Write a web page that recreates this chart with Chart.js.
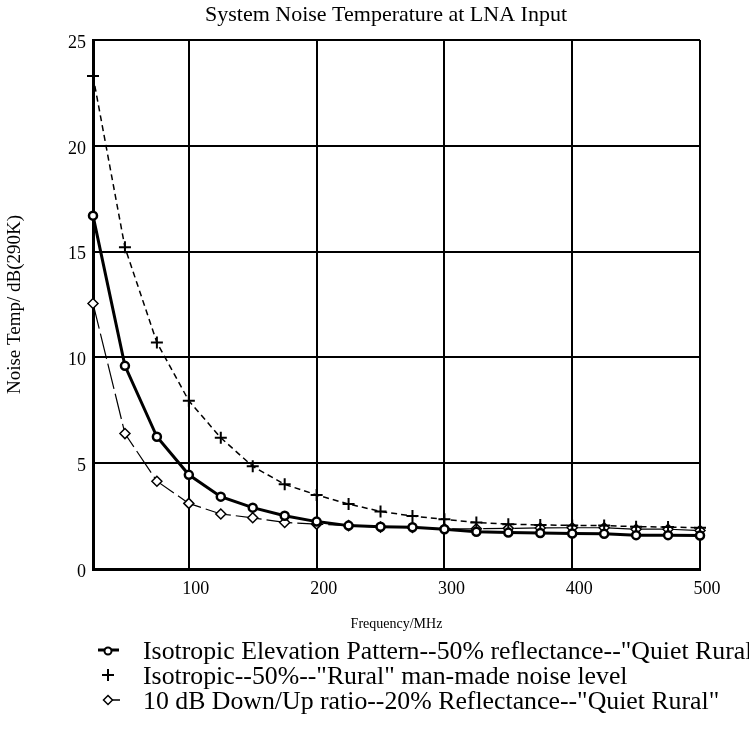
<!DOCTYPE html>
<html>
<head>
<meta charset="utf-8">
<script src="https://cdn.jsdelivr.net/npm/chart.js@4/dist/chart.umd.min.js"></script>
<style>
  html, body { margin: 0; background: #fff; }
  #wrap { width: 749px; height: 730px; }
</style>
</head>
<body>
<div id="wrap"><canvas id="chart"></canvas></div>
<script>
const TITLE = 'System Noise Temperature at LNA Input'
const X_TITLE = 'Frequency/MHz'
const Y_TITLE = 'Noise Temp/ dB(290K)'

const FREQ_MHZ = [25, 50, 75, 100, 125, 150, 175, 200, 225, 250, 275, 300, 325, 350, 375, 400, 425, 450, 475, 500]
const ISO_QUIET_RURAL = [16.7, 9.6, 6.25, 4.45, 3.42, 2.9, 2.52, 2.24, 2.05, 2.0, 1.97, 1.88, 1.76, 1.72, 1.7, 1.68, 1.66, 1.6, 1.6, 1.58]
const ISO_RURAL = [23.3, 15.2, 10.7, 7.95, 6.2, 4.85, 4.0, 3.5, 3.07, 2.72, 2.5, 2.35, 2.2, 2.12, 2.08, 2.06, 2.05, 2.0, 1.98, 1.95]
const DOWNUP_QUIET_RURAL = [12.55, 6.4, 4.15, 3.1, 2.6, 2.42, 2.2, 2.12, 2.05, 1.98, 1.96, 1.9, 1.9, 1.92, 1.94, 1.95, 1.95, 1.88, 1.88, 1.82]

const SERIES_LABELS = [
  'Isotropic Elevation Pattern--50% reflectance--"Quiet Rural"',
  'Isotropic--50%--"Rural" man-made noise level',
  '10 dB Down/Up ratio--20% Reflectance--"Quiet Rural"',
]
const X_TICKS = [100, 200, 300, 400, 500]
const Y_MIN = 0, Y_MAX = 25, Y_STEP = 5

const SERIF = '"Liberation Serif", "Times New Roman", serif'
const toPoints = ys => FREQ_MHZ.map((x, i) => ({ x, y: ys[i] }))

// little legend symbols drawn by hand, the old plotter style
function drawSymbol(ctx, kind, cx, cy) {
  ctx.strokeStyle = '#000'
  ctx.fillStyle = '#fff'
  if (kind === 'circle') {
    ctx.lineWidth = 3
    ctx.beginPath(); ctx.moveTo(cx - 10, cy); ctx.lineTo(cx + 11, cy); ctx.stroke()
    ctx.lineWidth = 2
    ctx.beginPath(); ctx.arc(cx, cy + 1, 3.5, 0, Math.PI * 2); ctx.fill(); ctx.stroke()
  } else if (kind === 'cross') {
    ctx.lineWidth = 2
    ctx.beginPath()
    ctx.moveTo(cx - 6, cy); ctx.lineTo(cx + 6, cy)
    ctx.moveTo(cx, cy - 6); ctx.lineTo(cx, cy + 6)
    ctx.stroke()
  } else {
    ctx.lineWidth = 1.5
    ctx.beginPath(); ctx.moveTo(cx + 4, cy); ctx.lineTo(cx + 12, cy); ctx.stroke()
    ctx.beginPath()
    ctx.moveTo(cx, cy - 4.5); ctx.lineTo(cx + 4.5, cy); ctx.lineTo(cx, cy + 4.5); ctx.lineTo(cx - 4.5, cy); ctx.closePath()
    ctx.fill(); ctx.stroke()
  }
}

const paperText = {
  id: 'paperText',
  afterDraw(chart) {
    const ctx = chart.ctx
    ctx.save()
    ctx.fillStyle = '#000'
    ctx.textBaseline = 'middle'
    ctx.textAlign = 'center'
    ctx.font = '22px ' + SERIF
    ctx.fillText(TITLE, 386, 15)

    const kinds = ['circle', 'cross', 'diamond']
    ctx.font = '25.8px ' + SERIF
    ctx.textAlign = 'left'
    SERIES_LABELS.forEach((label, i) => {
      const y = 652 + i * 25
      drawSymbol(ctx, kinds[i], 108, y - 2)
      ctx.fillStyle = '#000'
      ctx.fillText(label, 143, y)
    })
    ctx.restore()
  }
}

new Chart(document.getElementById('chart'), {
  type: 'line',
  data: {
    datasets: [
      {
        label: SERIES_LABELS[0], data: toPoints(ISO_QUIET_RURAL),
        borderColor: '#000', borderWidth: 3,
        pointStyle: 'circle', pointRadius: 4, pointBorderWidth: 2.5,
        pointBackgroundColor: '#fff', pointBorderColor: '#000', clip: false, order: 1,
      },
      {
        label: SERIES_LABELS[1], data: toPoints(ISO_RURAL),
        borderColor: '#000', borderWidth: 1.5, borderDash: [6, 4],
        pointStyle: 'cross', pointRadius: 6, pointBorderWidth: 2,
        pointBorderColor: '#000', clip: false, order: 2,
      },
      {
        label: SERIES_LABELS[2], data: toPoints(DOWNUP_QUIET_RURAL),
        borderColor: '#000', borderWidth: 1.2, borderDash: [26, 5],
        pointStyle: 'rectRot', pointRadius: 5, pointBorderWidth: 1.5,
        pointBackgroundColor: '#fff', pointBorderColor: '#000', clip: false, order: 3,
      },
    ]
  },
  options: {
    responsive: true,
    maintainAspectRatio: false,
    animation: false,
    layout: { padding: { left: 2, right: 49, top: 40, bottom: 95 } },
    plugins: { legend: { display: false }, tooltip: { enabled: false }, title: { display: false } },
    elements: { line: { tension: 0 } },
    scales: {
      x: {
        type: 'linear', min: FREQ_MHZ[0], max: FREQ_MHZ[FREQ_MHZ.length - 1],
        afterBuildTicks: s => { s.ticks = X_TICKS.map(value => ({ value })) },
        afterFit: s => { s.height = 66 },
        grid: { color: '#000', lineWidth: 2, drawTicks: false },
        border: { display: true, color: '#000', width: 3 },
        ticks: { color: '#000', font: { family: SERIF, size: 18 }, padding: 9, labelOffset: 7, maxRotation: 0 },
        title: { display: true, text: X_TITLE, color: '#000', font: { family: SERIF, size: 14 }, padding: { top: 0, bottom: 2 } },
      },
      y: {
        min: Y_MIN, max: Y_MAX,
        ticks: { stepSize: Y_STEP, color: '#000', font: { family: SERIF, size: 18 }, padding: 7, labelOffset: 3 },
        afterFit: s => { s.width = 91 },
        grid: { color: '#000', lineWidth: 2, drawTicks: false },
        border: { display: true, color: '#000', width: 3 },
        title: { display: true, text: Y_TITLE, color: '#000', font: { family: SERIF, size: 19 }, padding: { top: 2, bottom: 0 } },
      }
    }
  },
  plugins: [paperText]
})
</script>
</body>
</html>
